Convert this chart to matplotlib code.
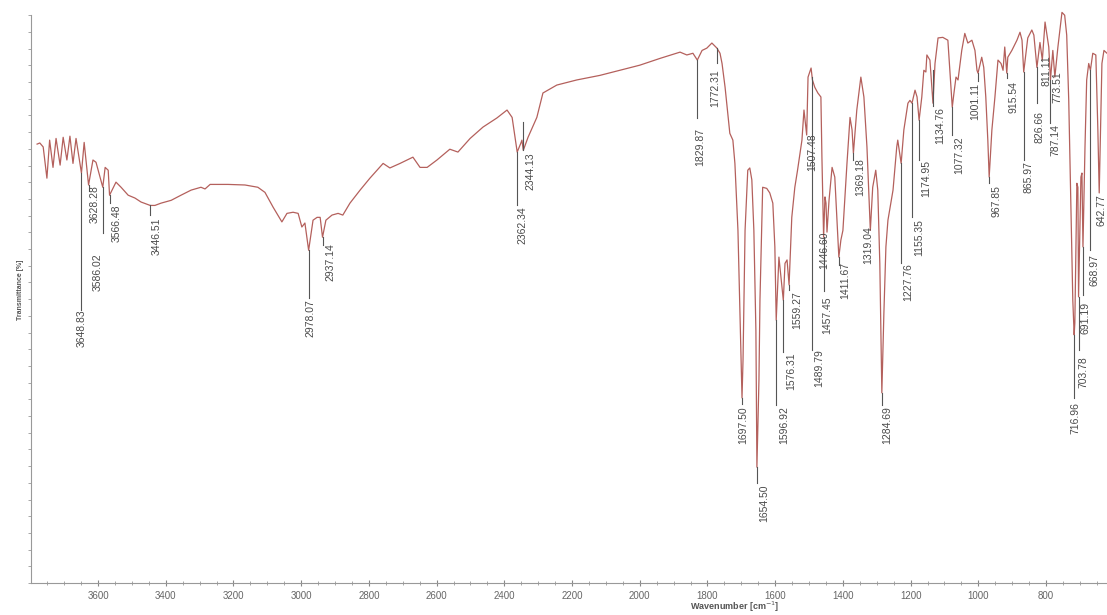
import numpy as np
import matplotlib.pyplot as plt
from matplotlib.ticker import MultipleLocator, NullFormatter

# FTIR spectrum (wavenumber in cm-1, transmittance in %)
wn = [3780, 3772, 3762, 3751, 3743, 3733, 3724, 3712, 3703, 3692, 3683, 3674, 3665,
      3649, 3641, 3628, 3615, 3606, 3586, 3579, 3570, 3566, 3547, 3532, 3511, 3491,
      3473, 3446, 3432, 3414, 3384, 3355, 3325, 3296, 3284, 3269, 3216, 3166, 3128,
      3107, 3083, 3057, 3042, 3024, 3009, 2998, 2989, 2978, 2965, 2953, 2944, 2937,
      2927, 2909, 2891, 2877, 2856, 2826, 2797, 2758, 2738, 2708, 2670, 2649, 2628,
      2599, 2561, 2537, 2501, 2463, 2422, 2392, 2377, 2362, 2351, 2348, 2344, 2330,
      2304, 2286, 2245, 2186, 2118, 2059, 2000, 1940, 1881, 1861, 1843, 1830, 1816,
      1802, 1787, 1772, 1763, 1757, 1748, 1740, 1734, 1725, 1719, 1710, 1704, 1698,
      1695, 1689, 1681, 1675, 1669, 1663, 1657, 1654, 1648, 1645, 1640, 1637, 1625,
      1616, 1607, 1601, 1597, 1589, 1576, 1571, 1565, 1559, 1551, 1542, 1534, 1521,
      1515, 1507, 1503, 1494, 1490, 1483, 1474, 1465, 1462, 1457, 1453, 1450, 1447,
      1441, 1432, 1424, 1418, 1412, 1406, 1400, 1388, 1379, 1373, 1369, 1359, 1347,
      1338, 1329, 1323, 1319, 1312, 1303, 1297, 1291, 1285, 1279, 1273, 1267, 1252,
      1241, 1238, 1228, 1220, 1208, 1202, 1196, 1187, 1181, 1175, 1167, 1161, 1155,
      1152, 1143, 1134, 1128, 1119, 1105, 1090, 1077, 1072, 1066, 1060, 1049, 1040,
      1031, 1019, 1010, 1004, 1001, 990, 984, 978, 972, 968, 960, 951, 942, 933, 927,
      922, 916, 913, 901, 886, 877, 871, 866, 854, 842, 836, 827, 821, 818, 811, 803,
      792, 787, 780, 774, 765, 753, 745, 739, 733, 727, 721, 717, 715, 709, 706, 704,
      697, 694, 691, 685, 680, 674, 669, 662, 653, 647, 643, 635, 629, 620]
trans = [77.3, 77.5, 76.8, 71.3, 78.0, 73.2, 78.3, 73.6, 78.5, 74.5, 78.7, 73.9, 78.3,
         72.2, 77.6, 70.1, 74.5, 74.1, 69.7, 73.2, 72.7, 68.3, 70.6, 69.7, 68.3, 67.8,
         67.1, 66.5, 66.5, 66.9, 67.4, 68.3, 69.2, 69.7, 69.4, 70.2, 70.2, 70.1, 69.7,
         68.8, 66.2, 63.6, 65.1, 65.3, 65.1, 62.7, 63.4, 58.6, 63.9, 64.4, 64.4, 60.9,
         63.9, 64.8, 65.1, 64.8, 66.9, 69.2, 71.3, 73.9, 73.1, 73.9, 75.0, 73.2, 73.2,
         74.5, 76.4, 75.9, 78.3, 80.3, 81.9, 83.3, 82.0, 75.9, 77.5, 78.0, 76.2, 78.5,
         82.0, 86.3, 87.7, 88.6, 89.4, 90.3, 91.2, 92.4, 93.5, 93.0, 93.3, 92.1, 93.8,
         94.2, 95.1, 94.2, 93.3, 91.5, 87.3, 82.7, 79.2, 78.0, 73.9, 62.1, 47.5, 32.6,
         39.3, 62.1, 72.7, 73.1, 71.0, 62.1, 44.5, 20.4, 35.7, 49.8, 62.1, 69.7, 69.5,
         68.7, 66.9, 59.2, 46.3, 57.4, 49.8, 56.3, 56.9, 52.5, 64.4, 69.7, 72.7, 78.0,
         83.3, 78.9, 89.1, 90.7, 88.6, 87.3, 86.3, 85.6, 75.0, 60.9, 68.0, 66.9, 61.8,
         67.4, 73.2, 71.5, 64.4, 57.4, 60.4, 62.1, 73.9, 82.0, 79.8, 75.7, 83.3, 89.1,
         85.6, 76.8, 68.0, 62.1, 69.7, 72.7, 69.2, 56.3, 33.5, 47.5, 59.2, 63.9, 69.2,
         76.8, 78.0, 73.9, 79.8, 84.5, 85.0, 84.5, 86.8, 85.6, 81.5, 85.6, 90.3, 90.0,
         93.0, 92.1, 84.5, 91.5, 96.0, 96.1, 95.6, 83.8, 86.3, 89.1, 88.6, 93.8, 96.8,
         95.1, 95.6, 93.8, 90.3, 89.8, 92.6, 90.8, 85.6, 78.0, 71.5, 79.8, 85.6, 92.1, 91.5, 90.3,
         94.4, 89.8, 92.6, 93.8, 95.6, 97.0, 95.6, 90.0, 96.0, 97.4, 96.5, 90.8, 93.8, 95.2, 92.1, 98.8,
         94.4, 88.6, 93.8, 89.1, 94.4, 100.5, 100.0, 96.5, 85.0, 67.4, 49.8, 43.7, 45.8, 70.4, 69.7, 50.4,
         71.5, 72.2, 59.2, 76.8, 88.6, 91.5, 90.3, 93.3, 93.0, 79.8, 68.7, 91.5, 93.8, 93.3]

# peak labels
peak_labels = ["3648.83", "3628.28", "3586.02", "3566.48", "3446.51", "2978.07", "2937.14",
               "2362.34", "2344.13", "1829.87", "1772.31", "1697.50", "1654.50", "1596.92",
               "1576.31", "1559.27", "1507.48", "1489.79", "1457.45", "1446.60", "1411.67",
               "1369.18", "1319.04", "1284.69", "1227.76", "1174.95", "1155.35", "1134.76",
               "1077.32", "1001.11", "967.85", "915.54", "865.97", "826.66", "811.11",
               "787.14", "773.51", "716.96", "703.78", "691.19", "668.97", "642.77"]

# label layout: line x, line top, line bottom, text x, text centre y
label_pos = [(3649, 72.2, 48.1, 3647, 44.9), (3628, 70.1, 69.0, 3609, 66.7),
             (3586, 69.7, 61.6, 3600, 54.8), (3566, 68.3, 67.0, 3544, 63.4),
             (3446, 66.5, 64.8, 3426, 61.1), (2978, 58.6, 50.2, 2974, 46.7),
             (2937, 60.9, 59.5, 2915, 56.5), (2362, 75.9, 66.5, 2348, 63.0),
             (2344, 81.2, 76.2, 2324, 72.5), (1830, 92.1, 81.9, 1822, 76.8),
             (1772, 94.2, 91.5, 1778, 87.1), (1698, 32.6, 31.5, 1695, 27.8),
             (1654, 20.4, 17.6, 1633, 14.1), (1597, 46.3, 31.3, 1574, 27.9),
             (1576, 49.8, 40.7, 1554, 37.3), (1559, 52.5, 51.6, 1536, 48.1),
             (1507, 78.9, 78.9, 1492, 75.9), (1490, 89.1, 41.0, 1471, 37.9),
             (1457, 60.9, 51.5, 1447, 47.2), (1447, 61.8, 61.8, 1456, 58.6),
             (1412, 57.4, 56.0, 1394, 53.3), (1369, 75.7, 74.5, 1350, 71.5),
             (1319, 62.1, 62.1, 1326, 59.5), (1285, 33.5, 31.3, 1270, 27.8),
             (1228, 73.9, 56.3, 1208, 53.0), (1175, 81.5, 74.5, 1153, 71.3),
             (1196, 84.5, 64.4, 1176, 60.9), (1134, 90.3, 84.0, 1114, 80.6),
             (1077, 83.8, 78.9, 1057, 75.4), (1001, 89.8, 88.5, 1010, 84.9),
             (968, 71.5, 70.4, 945, 67.3), (916, 89.8, 88.9, 895, 85.6),
             (866, 90.0, 74.5, 851, 71.5), (827, 90.8, 84.5, 818, 80.3),
             (811, 92.1, 92.1, 798, 90.3), (787, 88.6, 81.0, 771, 78.0),
             (774, 89.1, 89.1, 765, 87.3), (717, 43.7, 32.5, 712, 29.0),
             (704, 50.4, 41.0, 691, 37.1), (691, 59.2, 50.7, 683, 46.7),
             (669, 90.3, 58.6, 657, 55.1), (643, 68.7, 68.7, 635, 65.7)]

plt.rcParams['font.family'] = ['Liberation Sans', 'DejaVu Sans']

fig = plt.figure(figsize=(11.07, 6.15), dpi=100)
ax = fig.add_axes([31 / 1107, 1 - 583 / 615, 1 - 31 / 1107, 578 / 615])

ax.plot(wn, trans, color='#b4605c', lw=0.9)

for lab, (lx, y1, y2, tx, ty) in zip(peak_labels, label_pos):
    if y1 != y2:
        ax.plot([lx, lx], [y1, y2], color='#555555', lw=0.8)
    ax.text(tx, ty, lab, rotation=90, ha='center', va='center',
            fontsize=7.5, color='#4a4a4a')

ax.set_xlim(3798, 620)
ax.set_ylim(0, 101.8)

ax.xaxis.set_major_locator(MultipleLocator(200))
ax.xaxis.set_minor_locator(MultipleLocator(50))
ax.set_yticks(np.linspace(0, 100, 35))
ax.yaxis.set_major_formatter(NullFormatter())
ax.tick_params(axis='x', which='major', direction='inout', length=5, width=0.8,
               colors='#888888', labelsize=7, labelcolor='#666666', pad=3)
ax.tick_params(axis='x', which='minor', direction='inout', length=3, width=0.6,
               colors='#999999')
ax.tick_params(axis='y', direction='out', length=2.5, width=0.6, colors='#999999')

for s in ['top', 'right']:
    ax.spines[s].set_visible(False)
for s in ['left', 'bottom']:
    ax.spines[s].set_color('#999999')
    ax.spines[s].set_linewidth(0.8)
ax.spines['left'].set_bounds(0, 100)

fig.text(735 / 1107, 1 - 607 / 615, 'Wavenumber [cm$^{-1}$]', ha='center', va='center',
         fontsize=6.5, fontweight='bold', color='#555555')
fig.text(21 / 1107, 1 - 290 / 615, 'Transmittance [%]', rotation=90, ha='center',
         va='center', fontsize=5, fontweight='bold', color='#555555')

fig.savefig('out.png', dpi=100)
